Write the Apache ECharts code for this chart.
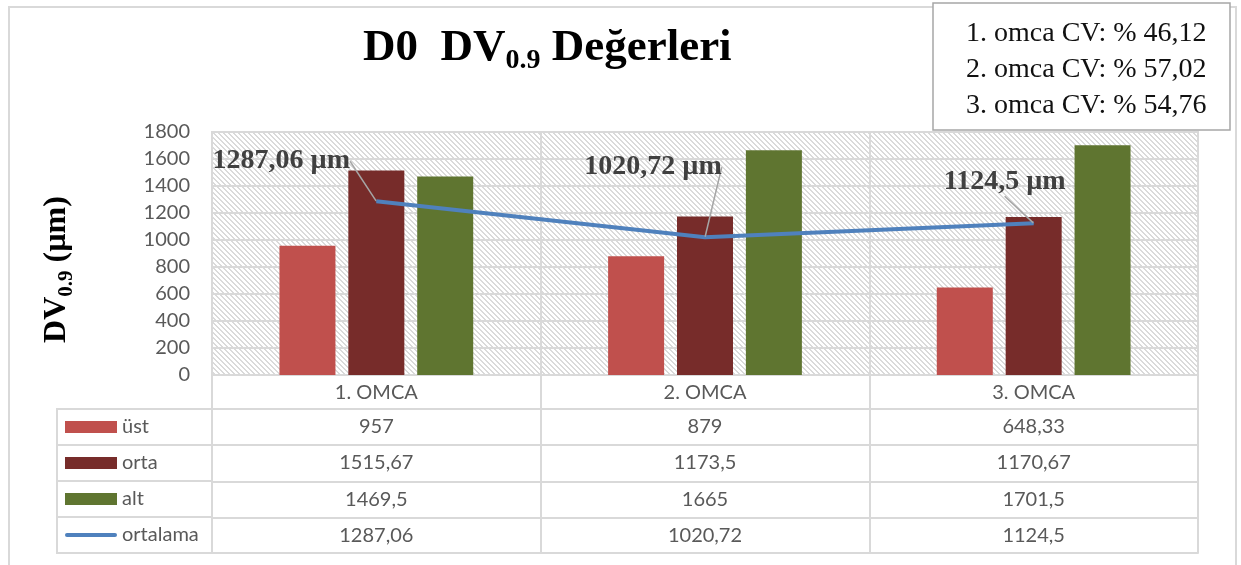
<!DOCTYPE html>
<html><head><meta charset="utf-8">
<script src="https://cdn.jsdelivr.net/npm/echarts@6/dist/echarts.min.js"></script>
<style>html,body{margin:0;padding:0;background:#fff}#c{width:1241px;height:565px}</style>
</head><body><div id="c"></div>
<script>
// ---- data ----
const categories = ['1. OMCA', '2. OMCA', '3. OMCA'];
const ust = [957, 879, 648.33];
const orta = [1515.67, 1173.5, 1170.67];
const alt = [1469.5, 1665, 1701.5];
const ortalama = [1287.06, 1020.72, 1124.5];
const seriesNames = ['üst', 'orta', 'alt', 'ortalama'];
const yMin = 0, yMax = 1800, yInterval = 200;
const cvTexts = ['1. omca CV: % 46,12', '2. omca CV: % 57,02', '3. omca CV: % 54,76'];
const titleParts = ['D0  DV', '0.9', ' Değerleri'];
const yNameParts = ['DV', '0.9', ' (µm)'];
const unit = 'µm';

// ---- styles / layout ----
const colors = ['#C0504D', '#772C2A', '#5F7530', '#4F81BD'];
const gridColor = '#d9d9d9';
const txt = '#595959';
const rows = [ust, orta, alt, ortalama];
const tableLines = [0, 34, 70, 107, 143, 178]; // offsets below plot bottom
const labelOffsets = [[-95, -40], [-52, -70], [-29, -41]];
const fmt = v => String(v).replace('.', ',');

function hatch() {
  const n = 5;
  const c = document.createElement('canvas'); c.width = n; c.height = n;
  const g = c.getContext('2d');
  g.fillStyle = '#fff'; g.fillRect(0, 0, n, n);
  g.fillStyle = '#dadada';
  for (let i = 0; i < n; i++) { g.fillRect(i, i, 1, 1); g.fillRect((i + 1) % n, i, 1, 1); }
  return c;
}

const xAxes = [];
for (let r = 0; r < 6; r++) {
  const ax = {
    type: 'category', gridIndex: 0, data: categories, position: 'bottom',
    offset: tableLines[r],
    axisLine: { show: true, lineStyle: { color: gridColor, width: 2 } },
    axisTick: { show: r < 5, length: r < 5 ? tableLines[r + 1] - tableLines[r] : 0, lineStyle: { color: gridColor, width: 2 } },
    splitLine: { show: r === 0, lineStyle: { color: gridColor, width: 2 } },
    axisLabel: { show: r < 5, fontFamily: 'Lato', fontSize: 20, color: txt, margin: 8 },
    silent: true
  };
  if (r >= 1 && r <= 4) {
    const arr = rows[r - 1];
    ax.axisLabel.formatter = (v, i) => fmt(arr[i]);
  }
  xAxes.push(ax);
}
xAxes.push({ type: 'value', gridIndex: 1, show: false });

const serifRich = (size, sub) => ({
  a: { fontFamily: 'Liberation Serif', fontWeight: 'bold', fontSize: size, lineHeight: size + 8, color: '#000' },
  b: { fontFamily: 'Liberation Serif', fontWeight: 'bold', fontSize: sub, lineHeight: sub, verticalAlign: 'bottom', color: '#000' }
});

const chart = echarts.init(document.getElementById('c'), null, { renderer: 'canvas' });
chart.setOption({
  animation: false,
  backgroundColor: '#fff',
  graphic: [{
    type: 'rect', silent: true, z: -10,
    shape: { x: 9, y: 7, width: 1227, height: 640 },
    style: { fill: 'none', stroke: gridColor, lineWidth: 2 }
  }],
  title: [{
    text: `{a|${titleParts[0]}}{b|${titleParts[1]}}{a|${titleParts[2]}}`,
    left: 363, top: 22, padding: 0,
    textStyle: { rich: serifRich(45, 28) }
  }, {
    text: cvTexts.join('\n'),
    left: 933, top: 3, padding: [13, 24, 6, 33], z: 20,
    borderColor: '#a6a6a6', borderWidth: 1.5, backgroundColor: '#fff',
    textStyle: { fontFamily: 'Liberation Serif', fontWeight: 'normal', fontSize: 28, lineHeight: 36, color: '#111' }
  }],
  legend: {
    orient: 'vertical', left: 65, top: 417, padding: 0,
    itemWidth: 52, itemHeight: 12, itemGap: 16, selectedMode: false,
    textStyle: { fontFamily: 'Lato', fontSize: 20, color: txt, lineHeight: 20 },
    data: seriesNames.map((n, i) => i < 3 ? { name: n, icon: 'rect' } :
      { name: n, icon: 'path://M0,0 M52,12 M2,4 L50,4 A2,2 0 0 1 50,8 L2,8 A2,2 0 0 1 2,4 Z' })
  },
  grid: [
    { left: 212, right: 43, top: 132, bottom: 190, show: true, borderColor: gridColor, borderWidth: 2,
      backgroundColor: { image: hatch(), repeat: 'repeat' } },
    { left: 57, width: 155, top: 409, bottom: 12, show: true, borderColor: gridColor, borderWidth: 2, backgroundColor: 'transparent' }
  ],
  xAxis: xAxes,
  yAxis: [{
    type: 'value', gridIndex: 0, min: yMin, max: yMax, interval: yInterval,
    axisLine: { show: false }, axisTick: { show: false },
    axisLabel: { fontFamily: 'Lato', fontSize: 20, color: txt, margin: 22, formatter: v => String(v) },
    splitLine: { lineStyle: { color: gridColor, width: 2 } },
    name: `{a|${yNameParts[0]}}{b|${yNameParts[1]}}{a|${yNameParts[2]}}`,
    nameLocation: 'middle', nameRotate: 90, nameGap: 135,
    nameTextStyle: { rich: serifRich(32, 21), padding: [0, 32, 0, 0] }
  }, {
    type: 'category', gridIndex: 1, data: seriesNames, inverse: true,
    axisLine: { show: false }, axisTick: { show: false }, axisLabel: { show: false },
    splitLine: { show: true, lineStyle: { color: gridColor, width: 2 } }
  }],
  series: [
    { name: seriesNames[0], type: 'bar', data: ust, barWidth: 56, barGap: '23%', itemStyle: { color: colors[0] } },
    { name: seriesNames[1], type: 'bar', data: orta, barWidth: 56, barGap: '23%', itemStyle: { color: colors[1] } },
    { name: seriesNames[2], type: 'bar', data: alt, barWidth: 56, barGap: '23%', itemStyle: { color: colors[2] } },
    {
      name: seriesNames[3], type: 'line', data: ortalama, z: 5,
      symbol: 'circle', symbolSize: 1, showSymbol: true,
      lineStyle: { width: 4, color: colors[3] }, itemStyle: { color: colors[3] },
      label: {
        show: true, position: 'inside',
        formatter: p => fmt(p.value) + ' ' + unit,
        fontFamily: 'Liberation Serif', fontWeight: 'bold', fontSize: 28, color: '#404040'
      },
      labelLine: { show: true, lineStyle: { color: '#a6a6a6', width: 1.5 } },
      labelLayout: p => ({ dx: labelOffsets[p.dataIndex][0], dy: labelOffsets[p.dataIndex][1] })
    }
  ]
});
</script></body></html>
